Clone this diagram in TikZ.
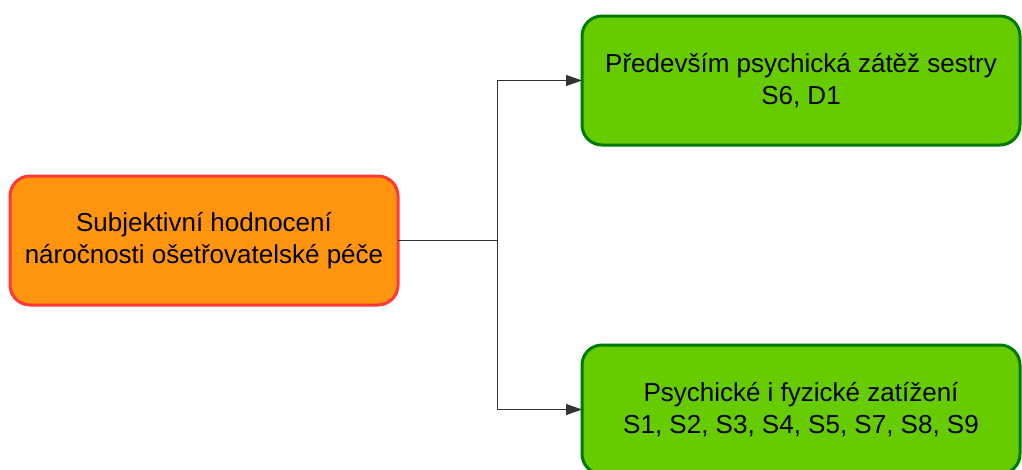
\documentclass[tikz,border=0pt]{standalone}
\usepackage{fontspec}
\setmainfont{Liberation Sans}
\usetikzlibrary{arrows.meta}
\definecolor{boxorange}{HTML}{FF950E}
\definecolor{boxred}{HTML}{FF3838}
\definecolor{boxgreen}{HTML}{66CC00}
\definecolor{boxdkgreen}{HTML}{007A00}
\begin{document}
\begin{tikzpicture}[x=1pt,y=-1pt,
  box/.style={rectangle, rounded corners=20pt, line width=3pt, inner sep=0pt, outer sep=0pt,
    minimum height=129pt, align=center,
    font=\fontsize{26}{32}\selectfont},
  srcbox/.style={box, fill=boxorange, draw=boxred, minimum width=388pt},
  leafbox/.style={box, fill=boxgreen, draw=boxdkgreen, minimum width=438pt},
  link/.style={line width=0.8pt, draw=black!80},
  tip/.style={link, -{Triangle[length=16pt,width=11pt]}}]
\useasboundingbox (0,0) rectangle (1022,469);
\begin{scope}
\clip (0,0) rectangle (1022,469);
\node[srcbox] (src) at (204,240.5) {Subjektivní hodnocení\\náročnosti ošetřovatelské péče};
\node[leafbox] (top) at (801,80.5) {Především psychická zátěž sestry\\S6, D1};
\node[leafbox] (bot) at (801,409.5) {Psychické i fyzické zatížení\\S1, S2, S3, S4, S5, S7, S8, S9};
\end{scope}
\coordinate (split) at (497,240.5);
\draw[link] (src.east) -- (split);
\draw[tip] (split) |- (top.west);
\draw[tip] (split) |- (bot.west);
\end{tikzpicture}
\end{document}
